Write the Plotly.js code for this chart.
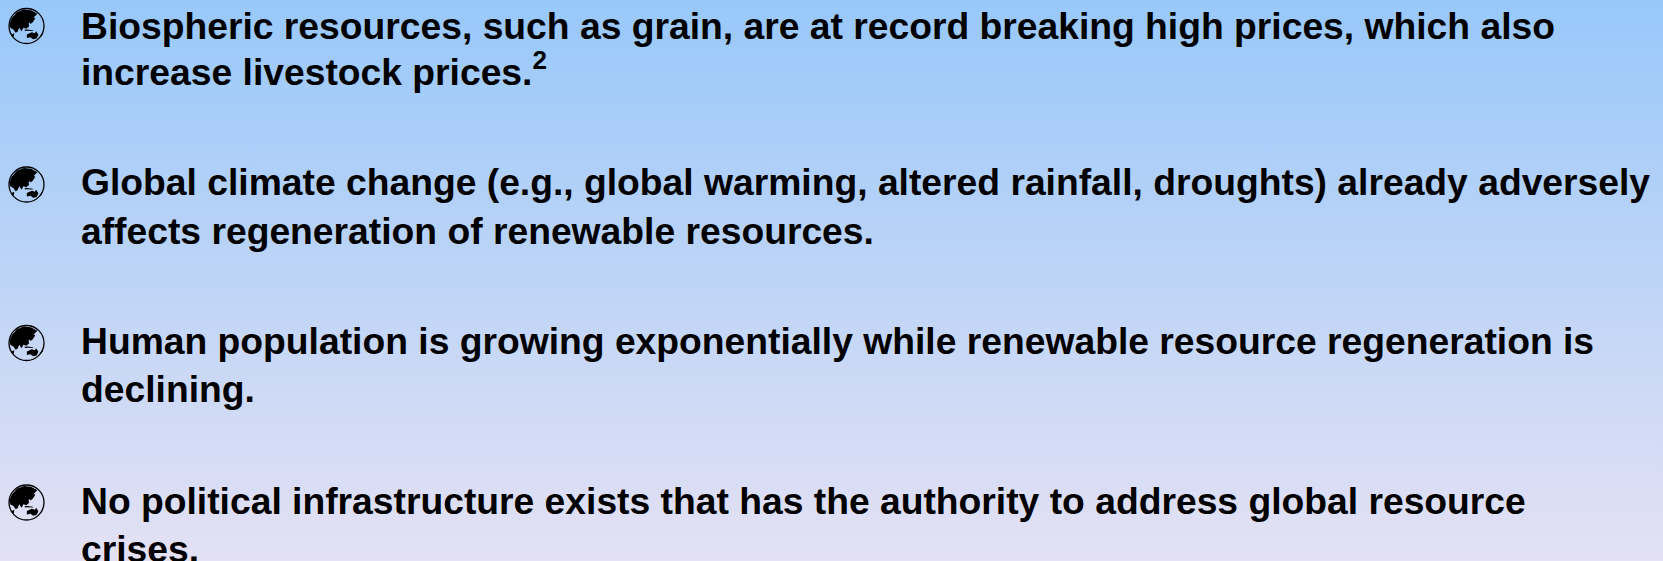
<!DOCTYPE html>
<html>
<head>
<meta charset="utf-8">
<script src="https://cdn.plot.ly/plotly-3.0.1.min.js"></script>
<style>
html,body{margin:0;padding:0;width:1663px;height:561px;overflow:hidden;background:linear-gradient(to bottom,#98C8FA 0%,#E4E1F4 100%);}
#chart{width:1663px;height:561px;}
</style>
</head>
<body>
<div id="chart"></div>
<script>
const lineTexts = [
  "Biospheric resources, such as grain, are at record breaking high prices, which also",
  "increase livestock prices.<sup>2</sup>",
  "Global climate change (e.g., global warming, altered rainfall, droughts) already adversely",
  "affects regeneration of renewable resources.",
  "Human population is growing exponentially while renewable resource regeneration is",
  "declining.",
  "No political infrastructure exists that has the authority to address global resource",
  "crises."
];
const lineCentres = [26, 69, 182, 231, 341, 389, 501, 549];
const bulletCentres = [26, 184.5, 343, 502.5];
const textLeft = 81;
const bulletX = 26.5;
const bulletR = 17.5;

function land(cx, cy, r, pts) {
  return pts.map((p, i) => (i ? "L" : "M") + (cx + p[0] * r).toFixed(2) + "," + (cy + p[1] * r).toFixed(2)).join(" ") + " Z";
}
const asia = [[-0.92,0.12],[-0.98,-0.1],[-0.85,-0.45],[-0.55,-0.78],[-0.15,-0.94],[0.25,-0.9],[0.62,-0.7],[0.42,-0.5],[0.3,-0.3],[0.12,-0.15],[0.15,0.02],[0.0,0.15],[-0.18,0.1],[-0.28,0.3],[-0.42,0.1],[-0.5,0.32],[-0.62,0.38],[-0.75,0.2]];
const japan = [[0.28,-0.35],[0.42,-0.5],[0.5,-0.45],[0.36,-0.22],[0.22,-0.12],[0.18,-0.18]];
const aus = [[0.02,0.48],[0.3,0.36],[0.48,0.42],[0.55,0.3],[0.68,0.5],[0.58,0.72],[0.38,0.76],[0.22,0.64],[0.02,0.68]];
const indo = [[-0.12,0.22],[0.05,0.2],[0.35,0.24],[0.4,0.28],[0.05,0.27],[-0.08,0.28]];
const africaBit = [[-0.85,0.48],[-0.7,0.42],[-0.72,0.6],[-0.8,0.62]];
const nz = [[0.78,0.58],[0.9,0.42],[0.92,0.47],[0.8,0.66]];

const shapes = [];
bulletCentres.forEach(cy => {
  shapes.push({type:"circle",xref:"x",yref:"y",x0:bulletX-bulletR,x1:bulletX+bulletR,y0:cy-bulletR,y1:cy+bulletR,
    line:{color:"#000",width:1.3},fillcolor:"rgba(255,255,255,0)"});
  [asia,japan,aus,indo,africaBit,nz].forEach(p => shapes.push({type:"path",xref:"x",yref:"y",
    path:land(bulletX,cy,bulletR,p),fillcolor:"#000",line:{width:0}}));
});

const annotations = lineTexts.map((t,i) => ({
  xref:"x",yref:"y",x:textLeft,y:lineCentres[i],text:t,showarrow:false,xanchor:"left",yanchor:"middle",align:"left",
  font:{family:"Liberation Sans, Arial, sans-serif",size:37.25,weight:700,color:"#000"},borderpad:0,borderwidth:0
}));

Plotly.newPlot("chart",[],{
  width:1663,height:561,
  margin:{l:0,r:0,t:0,b:0,pad:0},
  paper_bgcolor:"rgba(0,0,0,0)",plot_bgcolor:"rgba(0,0,0,0)",
  showlegend:false,
  xaxis:{range:[0,1663],visible:false,fixedrange:true},
  yaxis:{range:[561,0],visible:false,fixedrange:true},
  shapes:shapes,annotations:annotations
},{displayModeBar:false,staticPlot:true});
</script>
</body>
</html>
